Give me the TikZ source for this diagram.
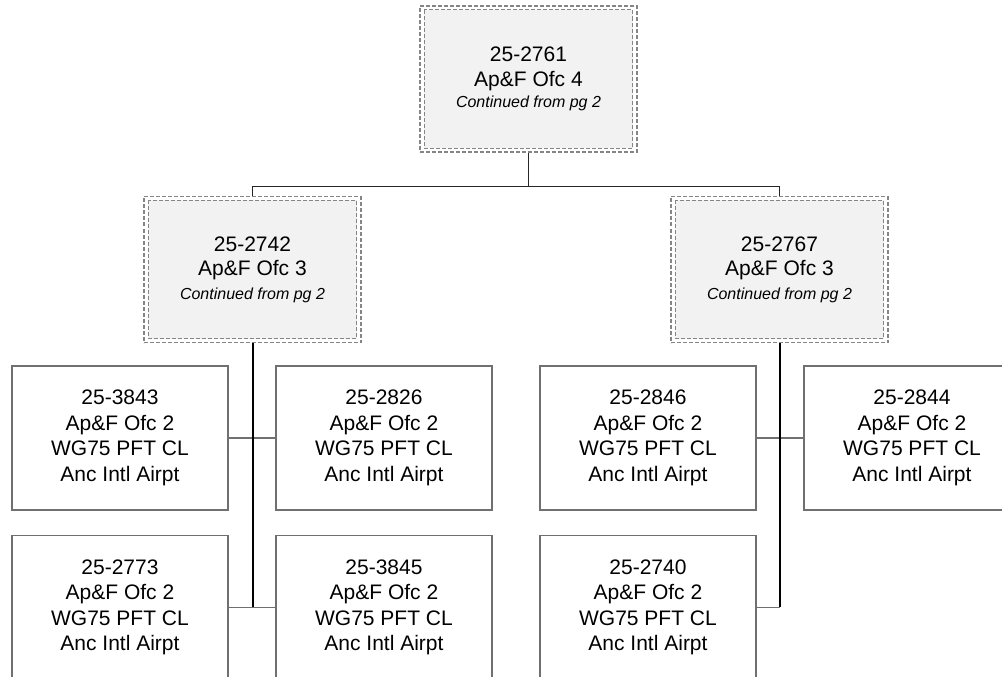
\documentclass[tikz,border=0pt]{standalone}
\usepackage{fontspec}
\setmainfont{Liberation Sans}
\usetikzlibrary{positioning,backgrounds}

\definecolor{framegray}{HTML}{858585}
\definecolor{boxgray}{HTML}{707070}
\definecolor{shade}{HTML}{F2F2F2}

\newcommand{\contnote}{{\fontsize{16}{19}\selectfont\itshape Continued from pg 2}}

\tikzset{
  leaf/.style={draw=boxgray, line width=1.3pt, minimum width=216pt, minimum height=144pt,
    inner sep=0pt, align=center, font=\fontsize{21}{25.6}\selectfont},
  contbox/.style={draw=framegray, line width=1.2pt, dash pattern=on 4pt off 2pt,
    minimum width=217pt, minimum height=146pt, inner sep=0pt, align=center,
    font=\fontsize{21}{24.5}\selectfont},
  inframe/.style={draw=framegray, line width=1.2pt, dash pattern=on 4pt off 2pt, fill=shade},
  bar/.style={line width=1.5pt, draw=black!85},
  trunk/.style={line width=2pt, draw=black},
  stub/.style={line width=1.5pt, draw=boxgray},
}

\begin{document}
\begin{tikzpicture}[x=1pt,y=1pt]
  \useasboundingbox (0,0) rectangle (1002,-677);
  \clip (0,0) rectangle (1002,-677);

  % level 4
  \node[contbox] (top) at (528.5,-79) {25-2761\\Ap\&F Ofc 4\\[-3pt]\contnote};

  % level 3
  \node[contbox] (midl) at (252.5,-269.5) {25-2742\\Ap\&F Ofc 3\\[-1pt]\contnote};
  \node[contbox] (midr) at (779.5,-269.5) {25-2767\\Ap\&F Ofc 3\\[-1pt]\contnote};

  \begin{scope}[on background layer]
    \foreach \n in {top,midl,midr}
      \draw[inframe] ([shift={(5pt,-4.5pt)}]\n.north west) rectangle ([shift={(-5pt,4.5pt)}]\n.south east);
  \end{scope}

  % level 2, left
  \node[leaf] (a1) at (120,-438) {25-3843\\Ap\&F Ofc 2\\WG75 PFT CL\\Anc Intl Airpt};
  \node[leaf, below=24pt of a1] (a2) {25-2773\\Ap\&F Ofc 2\\WG75 PFT CL\\Anc Intl Airpt};
  \node[leaf] (b1) at (384,-438) {25-2826\\Ap\&F Ofc 2\\WG75 PFT CL\\Anc Intl Airpt};
  \node[leaf, below=24pt of b1] (b2) {25-3845\\Ap\&F Ofc 2\\WG75 PFT CL\\Anc Intl Airpt};

  % level 2, right
  \node[leaf] (c1) at (648,-438) {25-2846\\Ap\&F Ofc 2\\WG75 PFT CL\\Anc Intl Airpt};
  \node[leaf, below=24pt of c1] (c2) {25-2740\\Ap\&F Ofc 2\\WG75 PFT CL\\Anc Intl Airpt};
  \node[leaf] (d1) at (912,-438) {25-2844\\Ap\&F Ofc 2\\WG75 PFT CL\\Anc Intl Airpt};

  % connectors
  \draw[bar] (top.south) -- ++(0,-34) coordinate (split);
  \draw[bar] (midl.north) |- (split) -| (midr.north);

  \draw[stub] (a1.east) -- (b1.west);
  \draw[stub] (a2.east) -- (b2.west);
  \draw[stub] (c1.east) -- (d1.west);
  \draw[stub] (c2.east) -- (c2.east -| midr.south);

  \draw[trunk] (midl.south) -- (midl.south |- a2.east);
  \draw[trunk] (midr.south) -- (midr.south |- c2.east);
\end{tikzpicture}
\end{document}
